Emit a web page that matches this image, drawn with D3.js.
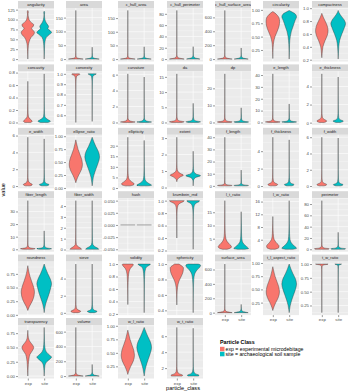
<!DOCTYPE html>
<html>
<head>
<meta charset="utf-8">
<script src="https://cdn.jsdelivr.net/npm/d3@7"></script>
<style>
body { margin: 0; background: #fff; }
text { font-family: "Liberation Sans", Arial, sans-serif; }
</style>
</head>
<body>
<div id="chart"></div>
<script>
var facets = ["angularity", "area", "c_hull_area", "c_hull_perimeter", "c_hull_surface_area", "circularity", "compactness",
    "concavity", "convexity", "curvature", "da", "dp", "e_length", "e_thickness",
    "e_width", "ellipse_ratio", "ellipticity", "extent", "f_length", "f_thickness", "f_width",
    "fiber_length", "fiber_width", "hash", "krumbein_rnd", "l_t_ratio", "l_w_ratio", "perimeter",
    "roundness", "sieve", "solidity", "sphericity", "surface_area", "t_l_aspect_ratio", "t_w_ratio",
    "transparency", "volume", "w_l_ratio", "w_t_ratio"];

var classes = ["exp", "site"];
var legendLabels = ["exp = experimental microdebitage", "site = archaeological soil sample"];

var yTickLabels = [
    ["0","25","50","75","100","125"], ["0","50","100","150"], ["0","50","100","150"], ["0","20","40","60","80"],
    ["0","200","400","600"], ["0.25","0.50","0.75","1.00"], ["0.2","0.4","0.6","0.8","1.0"],
    ["0.0","0.2","0.4","0.6","0.8"], ["0.6","0.7","0.8","0.9","1.0"], ["0","2","4","6"], ["0","5","10","15"],
    ["0","10","20"], ["0","10","20","30","40"], ["0","2","4"],
    ["0","2","4","6"], ["0.00","0.25","0.50","0.75","1.00"], ["0","5","10","15","20"], ["0","1","2","3"],
    ["0","10","20","30","40"], ["0","2","4"], ["0","2","4","6"],
    ["0","10","20","30"], ["0","1","2","3","4"], ["-0.050","-0.025","0.000","0.025","0.050"], ["0.2","0.4","0.6","0.8","1.0"],
    ["5","10","15"], ["4","8","12","16"], ["0","20","40","60","80"],
    ["0.00","0.25","0.50","0.75"], ["0","2","4"], ["0.2","0.4","0.6","0.8","1.0"], ["0.4","0.6","0.8","1.0"],
    ["0","200","400","600"], ["0.25","0.50","0.75","1.00"], ["0.25","0.50","0.75","1.00"],
    ["0.00","0.25","0.50","0.75"], ["0","200","400","600"], ["0.25","0.50","0.75","1.00"], ["2","4","6"]
];

// violin outlines: [value, relative width]
var expViolins = [
    [[0,0],[20,0.03],[35,0.08],[45,0.2],[55,0.45],[62,0.8],[68,0.9],[73,0.7],[78,0.5],[83,0.75],[87,0.8],[92,0.5],[97,0.25],[103,0.12],[110,0.05],[116,0.04],[119,0.08],[121,0.05],[123,0]],
    [[0,1],[1,0.75],[3,0.3],[6,0.1],[12,0.03],[30,0.01],[80,0.005],[176,0]],
    [[0,1],[1,0.75],[3,0.3],[6,0.1],[12,0.03],[30,0.01],[80,0.005],[178,0]],
    [[0,1],[1,0.6],[2,0.25],[4,0.08],[8,0.02],[20,0.008],[86,0]],
    [[0,1],[5,0.7],[15,0.25],[30,0.08],[60,0.02],[150,0.008],[700,0]],
    [[0.09,0],[0.2,0.02],[0.3,0.05],[0.4,0.12],[0.5,0.3],[0.6,0.6],[0.7,0.85],[0.78,0.92],[0.85,0.85],[0.9,0.6],[0.94,0.3],[0.97,0]],
    [[0.23,0],[0.3,0.05],[0.4,0.15],[0.5,0.45],[0.58,0.75],[0.65,0.85],[0.72,0.75],[0.8,0.45],[0.86,0.2],[0.92,0]],
    [[0,0.4],[0.02,0.6],[0.04,0.45],[0.07,0.2],[0.1,0.08],[0.15,0.04],[0.25,0.025],[0.3,0.015],[0.4,0.008],[0.66,0]],
    [[0.53,0],[0.7,0.008],[0.85,0.015],[0.93,0.03],[0.97,0.08],[0.985,0.25],[0.995,0.55],[1.0,0.5]],
    [[0,0.6],[0.05,1],[0.15,0.45],[0.3,0.12],[0.6,0.03],[1.5,0.01],[6.1,0]],
    [[0,0.7],[0.2,1],[0.5,0.4],[1,0.1],[2,0.03],[5,0.01],[16,0]],
    [[0,0.7],[0.3,1],[0.7,0.4],[1.5,0.1],[3,0.03],[8,0.01],[28.5,0]],
    [[0,0.6],[0.4,1],[1,0.4],[2,0.1],[4,0.03],[10,0.01],[41,0]],
    [[0.02,0.3],[0.1,0.6],[0.2,0.65],[0.35,0.35],[0.6,0.08],[1,0.03],[2,0.012],[5.4,0]],
    [[0.02,0.3],[0.1,0.55],[0.2,0.6],[0.35,0.3],[0.6,0.08],[1,0.03],[2,0.012],[5.8,0]],
    [[0.1,0],[0.15,0.1],[0.25,0.4],[0.35,0.75],[0.45,0.9],[0.55,0.8],[0.65,0.55],[0.75,0.3],[0.85,0.12],[0.93,0]],
    [[1,0.3],[1.5,0.8],[2,0.85],[3,0.5],[4,0.2],[5,0.1],[7,0.04],[10,0.02],[15,0.01],[24,0]],
    [[0.35,0],[0.5,0.1],[0.65,0.5],[0.75,0.9],[0.85,0.5],[1.0,0.12],[1.2,0.04],[1.6,0.015],[2.2,0.008],[3.05,0]],
    [[0,0.7],[0.3,1],[0.8,0.4],[1.5,0.1],[3,0.03],[8,0.01],[40,0]],
    [[0.02,0.3],[0.1,0.6],[0.2,0.65],[0.35,0.3],[0.6,0.08],[1,0.03],[2,0.012],[5.6,0]],
    [[0.02,0.3],[0.1,0.6],[0.2,0.65],[0.35,0.3],[0.6,0.08],[1,0.03],[2,0.012],[6,0]],
    [[0,0.6],[0.4,1],[1,0.4],[2,0.1],[4,0.03],[10,0.01],[38.6,0]],
    [[0.02,0.8],[0.1,0.7],[0.25,0.35],[0.45,0.08],[0.8,0.03],[2,0.012],[4.5,0]],
    [[0,1]],
    [[0.4,0],[0.6,0.01],[0.75,0.02],[0.85,0.05],[0.92,0.15],[0.96,0.45],[0.985,0.9],[1.0,1.0]],
    [[1,0.3],[1.5,0.8],[2,0.9],[3,0.6],[4,0.3],[5,0.15],[7,0.06],[10,0.03],[14,0.015],[19.4,0]],
    [[1,0.3],[1.5,0.8],[2,0.85],[3,0.5],[4,0.2],[5,0.1],[7,0.04],[9,0.015],[11.3,0]],
    [[0,0.9],[1,1],[2,0.4],[4,0.1],[8,0.03],[20,0.01],[86,0]],
    [[0.08,0],[0.15,0.2],[0.25,0.6],[0.35,0.85],[0.42,0.9],[0.5,0.8],[0.6,0.55],[0.7,0.3],[0.8,0.12],[0.9,0]],
    [[0.02,0.3],[0.1,0.6],[0.2,0.65],[0.35,0.3],[0.6,0.08],[1,0.03],[2,0.012],[5.7,0]],
    [[0.35,0],[0.5,0.01],[0.6,0.02],[0.7,0.04],[0.8,0.08],[0.88,0.18],[0.93,0.35],[0.97,0.65],[0.99,0.75],[1.0,0.7]],
    [[0.47,0],[0.6,0.03],[0.7,0.1],[0.78,0.3],[0.84,0.6],[0.9,0.85],[0.95,0.9],[0.98,0.6],[1.0,0.3]],
    [[0,1],[5,0.7],[15,0.25],[30,0.08],[60,0.02],[150,0.008],[676,0]],
    [[0.1,0],[0.15,0.1],[0.25,0.4],[0.35,0.75],[0.45,0.9],[0.55,0.8],[0.65,0.55],[0.75,0.3],[0.85,0.12],[0.93,0]],
    [[0.12,0],[0.4,0.005],[0.7,0.01],[0.9,0.02],[0.96,0.05],[0.985,0.3],[0.995,0.8],[1.0,0.85]],
    [[0,0],[0.1,0.03],[0.2,0.07],[0.3,0.15],[0.38,0.3],[0.45,0.65],[0.5,0.8],[0.55,0.6],[0.6,0.3],[0.65,0.12],[0.7,0.05],[0.8,0]],
    [[0,1],[5,0.7],[15,0.25],[30,0.08],[60,0.02],[150,0.008],[657,0]],
    [[0.1,0],[0.15,0.1],[0.25,0.4],[0.35,0.75],[0.45,0.9],[0.55,0.8],[0.65,0.55],[0.75,0.3],[0.85,0.12],[0.92,0]],
    [[1,0.7],[1.1,0.8],[1.3,0.3],[1.6,0.08],[2.2,0.02],[3.5,0.008],[7.1,0]]
];

var siteViolins = [
    [[0,0],[20,0.03],[35,0.06],[45,0.12],[55,0.3],[62,0.7],[67,1.0],[72,0.8],[77,0.5],[82,0.6],[86,0.5],[91,0.3],[97,0.15],[105,0.06],[112,0.03],[118,0.06],[121,0]],
    [[0,0.95],[1,0.7],[3,0.3],[6,0.1],[12,0.03],[25,0.01],[43,0]],
    [[0,0.95],[1,0.7],[3,0.3],[6,0.1],[12,0.03],[25,0.01],[45,0]],
    [[0,0.9],[1,0.6],[2,0.25],[4,0.08],[8,0.02],[22,0]],
    [[0,0.95],[5,0.7],[15,0.25],[30,0.08],[60,0.02],[160,0]],
    [[0.08,0],[0.2,0.02],[0.35,0.05],[0.5,0.15],[0.6,0.3],[0.7,0.55],[0.8,0.8],[0.87,1.0],[0.92,0.85],[0.96,0.4],[0.99,0]],
    [[0.21,0],[0.3,0.03],[0.4,0.08],[0.5,0.2],[0.6,0.5],[0.7,0.85],[0.76,1.0],[0.82,0.8],[0.88,0.4],[0.93,0.12],[0.965,0]],
    [[0,0.5],[0.02,0.85],[0.04,0.6],[0.07,0.22],[0.1,0.08],[0.15,0.04],[0.25,0.02],[0.35,0.012],[0.5,0.008],[0.78,0]],
    [[0.54,0],[0.7,0.008],[0.85,0.015],[0.93,0.03],[0.97,0.08],[0.985,0.2],[0.995,0.5],[1.0,0.55]],
    [[0,0.6],[0.05,1],[0.15,0.45],[0.3,0.12],[0.6,0.03],[1.5,0.01],[5.7,0]],
    [[0,0.7],[0.2,1],[0.5,0.4],[1,0.1],[2,0.03],[6.3,0]],
    [[0,0.7],[0.3,1],[0.7,0.4],[1.5,0.1],[3,0.03],[8.6,0]],
    [[0,0.6],[0.4,1],[1,0.4],[2,0.1],[4,0.03],[15.6,0]],
    [[0.02,0.3],[0.1,0.6],[0.18,0.7],[0.3,0.35],[0.55,0.08],[1,0.03],[2,0.012],[5.05,0]],
    [[0.02,0.3],[0.1,0.6],[0.18,0.65],[0.3,0.3],[0.55,0.08],[1,0.03],[2,0.012],[5.6,0]],
    [[0.04,0],[0.1,0.05],[0.2,0.15],[0.3,0.35],[0.4,0.6],[0.5,0.85],[0.6,1.0],[0.7,0.85],[0.8,0.5],[0.9,0.2],[0.98,0]],
    [[1,0.5],[1.3,1],[2,0.7],[3,0.3],[4,0.12],[6,0.05],[10,0.02],[15,0.01],[22.5,0]],
    [[0.1,0],[0.4,0.03],[0.6,0.3],[0.72,1.0],[0.82,0.4],[1,0.08],[1.3,0.02],[2.2,0]],
    [[0,0.7],[0.3,1],[0.8,0.4],[1.5,0.1],[3,0.03],[13,0]],
    [[0.02,0.3],[0.1,0.6],[0.18,0.65],[0.3,0.3],[0.55,0.08],[1,0.03],[2,0.012],[5.3,0]],
    [[0.02,0.3],[0.1,0.6],[0.18,0.65],[0.3,0.3],[0.55,0.08],[1,0.03],[2,0.012],[5.9,0]],
    [[0,0.6],[0.4,1],[1,0.4],[2,0.1],[4,0.03],[14.6,0]],
    [[0.02,0.9],[0.1,0.8],[0.25,0.4],[0.45,0.1],[0.8,0.03],[2,0.012],[4.5,0]],
    [[0,1]],
    [[0.22,0],[0.4,0.005],[0.6,0.01],[0.75,0.02],[0.85,0.05],[0.92,0.15],[0.96,0.4],[0.985,0.8],[1.0,0.85]],
    [[1,0.5],[1.3,1],[2,0.75],[3,0.35],[4,0.15],[6,0.06],[9,0.03],[15.2,0]],
    [[1,0.5],[1.3,1],[2,0.7],[3,0.3],[4,0.12],[6,0.05],[9,0.02],[12,0.01],[16.3,0]],
    [[0,0.9],[1,1],[2,0.4],[4,0.1],[8,0.03],[30,0]],
    [[0.04,0],[0.1,0.05],[0.2,0.2],[0.3,0.45],[0.4,0.7],[0.5,0.9],[0.57,1],[0.65,0.85],[0.75,0.5],[0.85,0.2],[0.93,0]],
    [[0.02,0.3],[0.1,0.6],[0.18,0.65],[0.3,0.3],[0.55,0.08],[1,0.03],[2,0.012],[5.7,0]],
    [[0.22,0],[0.4,0.01],[0.6,0.02],[0.75,0.04],[0.85,0.08],[0.92,0.18],[0.96,0.4],[0.985,0.75],[1.0,0.85]],
    [[0.37,0],[0.55,0.01],[0.7,0.03],[0.8,0.08],[0.87,0.2],[0.92,0.5],[0.96,0.9],[0.985,1.0],[1.0,0.7]],
    [[0,0.95],[5,0.7],[15,0.25],[30,0.08],[60,0.02],[115,0]],
    [[0.06,0],[0.12,0.06],[0.2,0.15],[0.3,0.35],[0.4,0.6],[0.5,0.85],[0.6,1.0],[0.7,0.85],[0.8,0.5],[0.9,0.2],[0.98,0]],
    [[0.12,0],[0.4,0.005],[0.7,0.01],[0.9,0.02],[0.96,0.04],[0.985,0.15],[0.995,0.4],[1.0,0.45]],
    [[0,0],[0.1,0.04],[0.18,0.1],[0.25,0.35],[0.3,0.8],[0.33,1.0],[0.37,0.7],[0.42,0.3],[0.5,0.1],[0.6,0.04],[0.7,0.02],[0.85,0]],
    [[0,0.95],[5,0.7],[15,0.25],[30,0.08],[60,0.02],[157,0]],
    [[0.07,0],[0.12,0.06],[0.2,0.15],[0.3,0.35],[0.4,0.6],[0.5,0.85],[0.6,1.0],[0.7,0.85],[0.8,0.5],[0.9,0.2],[0.97,0]],
    [[1,0.7],[1.1,0.8],[1.3,0.3],[1.6,0.08],[2.2,0.02],[3.5,0.008],[7,0]]
];

function init(){

    var w = 350;
    var h = 391;
    var ncol = 7;
    var colLeft = [18, 66, 118, 167, 215, 263, 312];
    var panelW = 36;
    var stripH = 7;
    var panelH = 53.5;
    var rowStep = 63.4;
    var top = 1;
    var nrow = Math.ceil(facets.length / ncol);

    var fill = d3.scaleOrdinal().domain(classes).range(["#F8766D", "#00BFC4"]);

    var svg = d3.select("#chart")
                .append("svg")
                .attr("width", w)
                .attr("height", h);

    svg.append("rect").attr("width", w).attr("height", h).attr("fill", "#fff");

    var xScale = d3.scalePoint()
                .domain(classes)
                .range([0, panelW])
                .padding(0.6);
    var half = 0.45 * xScale.step();

    function styleAxis(g) {
        g.select(".domain").remove();
        g.selectAll(".tick line").attr("stroke", "#333").attr("stroke-width", 0.5);
        g.selectAll(".tick text")
            .attr("fill", "#4D4D4D")
            .style("font-size", "4.3px")
            .style("font-family", "'Liberation Sans', Arial, sans-serif");
    }

    facets.forEach(function(name, i) {
        var col = i % ncol;
        var row = Math.floor(i / ncol);
        var g = svg.append("g")
                .attr("transform", "translate(" + colLeft[col] + "," + (top + row * rowStep) + ")");

        //strip
        g.append("clipPath").attr("id", "clip" + i)
            .append("rect").attr("width", panelW).attr("height", stripH);
        g.append("rect")
            .attr("width", panelW)
            .attr("height", stripH)
            .attr("fill", "#D9D9D9");
        g.append("text")
            .attr("clip-path", "url(#clip" + i + ")")
            .attr("x", panelW / 2)
            .attr("y", stripH / 2 + 1.4)
            .attr("text-anchor", "middle")
            .attr("fill", "#1A1A1A")
            .style("font-size", "4px")
            .text(name);

        var p = g.append("g").attr("transform", "translate(0," + stripH + ")");

        var vals = expViolins[i].concat(siteViolins[i]).map(function(d) { return d[0]; });
        var lo = d3.min(vals), hi = d3.max(vals);
        if (hi === lo) { lo -= 0.05; hi += 0.05; }
        var pad = (hi - lo) * 0.05;
        var yScale = d3.scaleLinear()
                .domain([lo - pad, hi + pad])
                .range([panelH, 0]);

        var ticks = yTickLabels[i].map(Number);
        var step = ticks[1] - ticks[0];
        var minor = [];
        for (var k = -1; k < ticks.length; k++) {
            var m = ticks[0] + (k + 0.5) * step;
            if (m > lo - pad && m < hi + pad) minor.push(m);
        }

        p.append("rect")
            .attr("width", panelW)
            .attr("height", panelH)
            .attr("fill", "#EBEBEB");

        p.selectAll(".minor")
            .data(minor)
            .enter().append("line")
            .attr("x1", 0).attr("x2", panelW)
            .attr("y1", function(d) { return yScale(d); })
            .attr("y2", function(d) { return yScale(d); })
            .attr("stroke", "#fff").attr("stroke-width", 0.3);

        p.selectAll(".major")
            .data(ticks)
            .enter().append("line")
            .attr("x1", 0).attr("x2", panelW)
            .attr("y1", function(d) { return yScale(d); })
            .attr("y2", function(d) { return yScale(d); })
            .attr("stroke", "#fff").attr("stroke-width", 0.6);

        p.selectAll(".vgrid")
            .data(classes)
            .enter().append("line")
            .attr("x1", function(d) { return xScale(d); })
            .attr("x2", function(d) { return xScale(d); })
            .attr("y1", 0).attr("y2", panelH)
            .attr("stroke", "#fff").attr("stroke-width", 0.6);

        //violins
        classes.forEach(function(c) {
            var prof = c === "exp" ? expViolins[i] : siteViolins[i];
            var cx = xScale(c);
            if (prof.length === 1) {
                p.append("line")
                    .attr("x1", cx - prof[0][1] * half)
                    .attr("x2", cx + prof[0][1] * half)
                    .attr("y1", yScale(prof[0][0]))
                    .attr("y2", yScale(prof[0][0]))
                    .attr("stroke", "#333")
                    .attr("stroke-width", 0.45);
                return;
            }
            var area = d3.area()
                .curve(d3.curveMonotoneY)
                .y(function(d) { return yScale(d[0]); })
                .x0(function(d) { return cx - d[1] * half; })
                .x1(function(d) { return cx + d[1] * half; });
            p.append("path")
                .datum(prof)
                .attr("d", area)
                .attr("fill", fill(c))
                .attr("stroke", "#333")
                .attr("stroke-width", 0.4)
                .attr("stroke-linejoin", "round");
        });

        var yAxis = d3.axisLeft(yScale)
                .tickValues(ticks)
                .tickFormat(function(d, k) { return yTickLabels[i][k]; })
                .tickSize(2)
                .tickPadding(1);
        p.append("g").call(yAxis).call(styleAxis);

        if (i >= facets.length - ncol) {
            var xAxis = d3.axisBottom(xScale).tickSize(2).tickPadding(1);
            p.append("g")
                .attr("transform", "translate(0," + panelH + ")")
                .call(xAxis).call(styleAxis);
        }
    });

    var panelsBottom = top + (nrow - 1) * rowStep + stripH + panelH;
    var panelsRight = colLeft[ncol - 1] + panelW;

    svg.append("text")
        .attr("transform", "translate(5," + ((top + panelsBottom) / 2) + ") rotate(-90)")
        .attr("text-anchor", "middle")
        .style("font-size", "5.6px")
        .text("value");

    svg.append("text")
        .attr("x", (colLeft[0] + panelsRight) / 2)
        .attr("y", 389.5)
        .attr("text-anchor", "middle")
        .style("font-size", "5.6px")
        .text("particle_class");

    //legend
    var lg = svg.append("g").attr("transform", "translate(220,338)");
    lg.append("text")
        .attr("x", 0).attr("y", 5.5)
        .style("font-size", "5.3px")
        .style("font-weight", "bold")
        .text("Particle Class");
    classes.forEach(function(c, k) {
        lg.append("rect")
            .attr("x", 0).attr("y", 8.8 + k * 5)
            .attr("width", 4.5).attr("height", 4.5)
            .attr("fill", fill(c));
        lg.append("text")
            .attr("x", 5.5).attr("y", 12.8 + k * 5)
            .style("font-size", "5.2px")
            .text(legendLabels[k]);
    });
}
window.onload = init;
</script>
</body>
</html>
